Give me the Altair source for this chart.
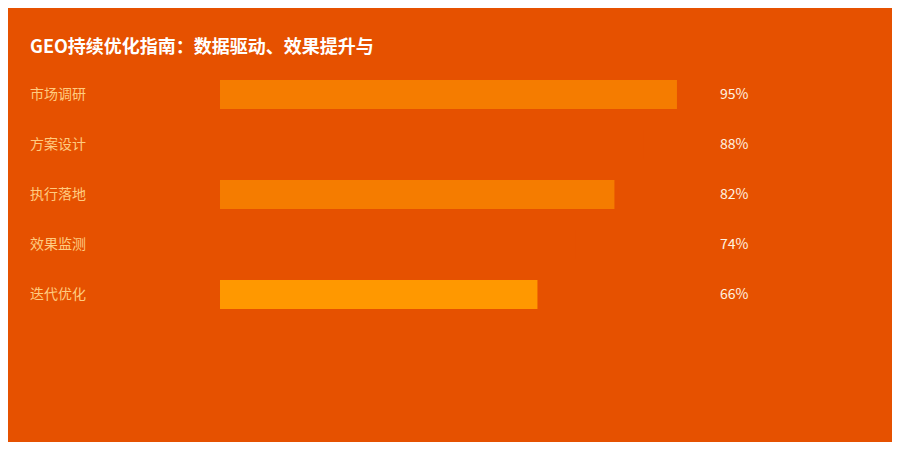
import altair as alt
import pandas as pd

categories = ["市场调研", "方案设计", "执行落地", "效果监测", "迭代优化"]
values = [95, 88, 82, 74, 66]
bar_colors = ["#F57C00", "#E65100", "#F57C00", "#E65100", "#FF9800"]
labels = [f"{v}%" for v in values]

df = pd.DataFrame({"category": categories, "value": values, "color": bar_colors, "label": labels})

BG = "#E65100"
FONT = "Noto Sans CJK SC"

y_enc = alt.Y("category:N", sort=categories, axis=None,
              scale=alt.Scale(paddingInner=0.42, paddingOuter=0.21))

bars = alt.Chart(df).mark_bar().encode(
    x=alt.X("value:Q", scale=alt.Scale(domain=[0, 100]), axis=None),
    y=y_enc,
    color=alt.Color("color:N", scale=None),
)

cat_text = alt.Chart(df).mark_text(align="left", baseline="middle", font=FONT,
                                   fontSize=14, color="#FFCC80").encode(
    x=alt.value(-190),
    y=y_enc,
    text="category:N",
)

val_text = alt.Chart(df).mark_text(align="left", baseline="middle", font=FONT,
                                   fontSize=14, color="#FFF3E0").encode(
    x=alt.value(500),
    y=y_enc,
    text="label:N",
)

chart = alt.layer(bars, cat_text, val_text).properties(
    width=481,
    height=250,
    background=BG,
    padding={"left": 212, "top": 61.5, "right": 191, "bottom": 122.5},
    autosize=alt.AutoSizeParams(type="none"),
    title=alt.TitleParams(
        "GEO持续优化指南：数据驱动、效果提升与",
        anchor="start", frame="bounds", font=FONT, fontSize=18,
        fontWeight="bold", color="#FFFFFF", offset=13,
    ),
).configure_view(stroke=None)

chart.save("out.html", embed_options={"renderer": "svg", "actions": False})
